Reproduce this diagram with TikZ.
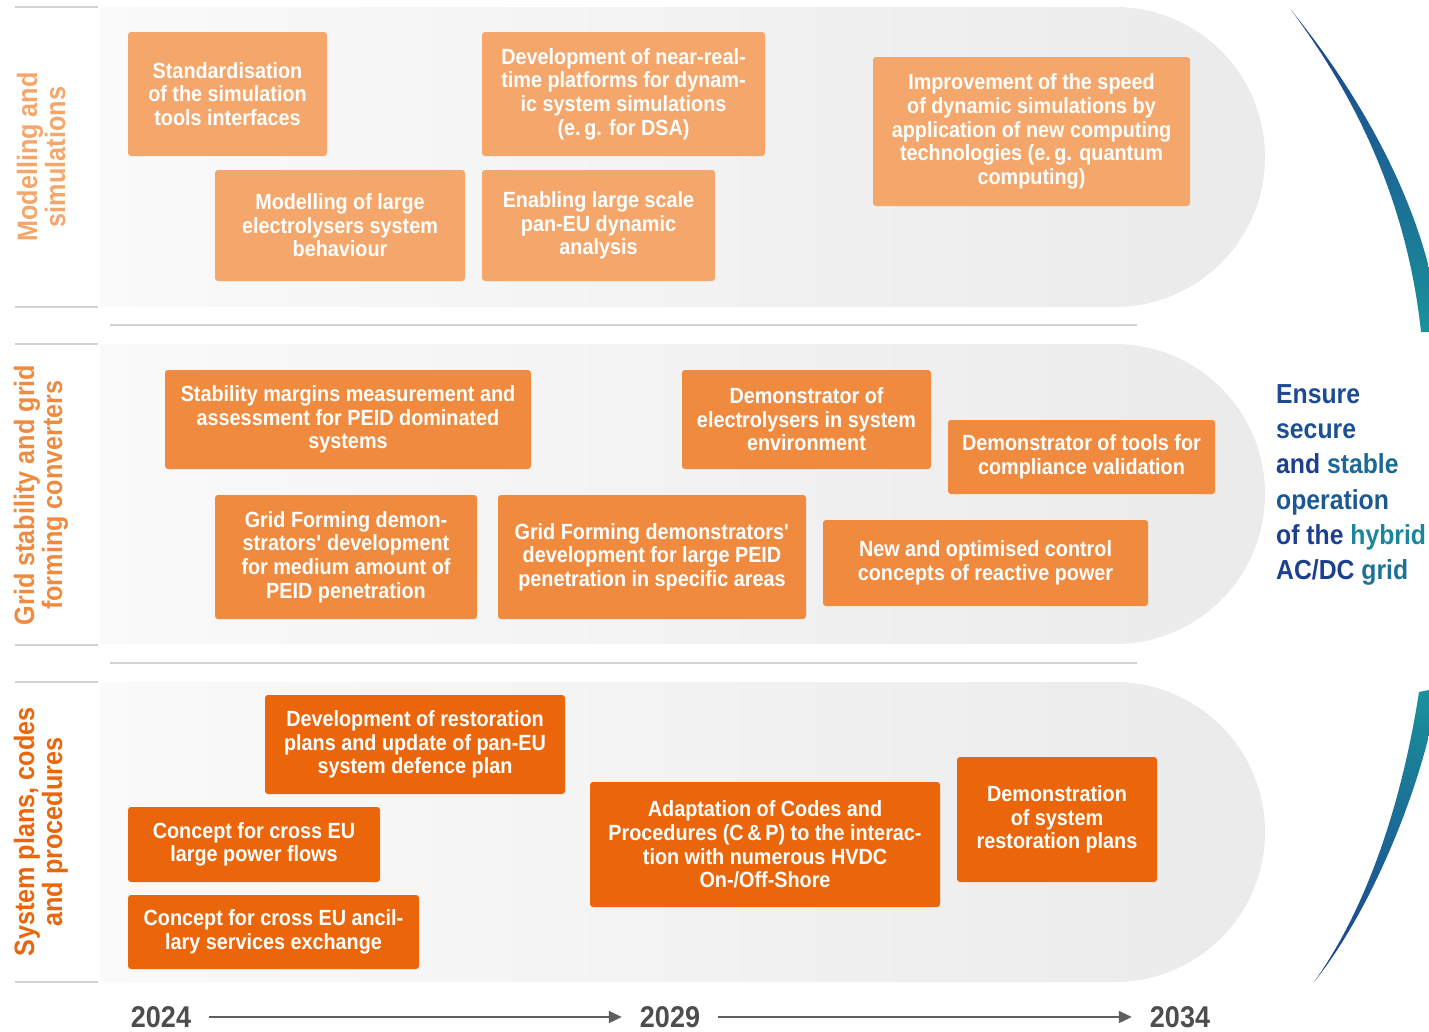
\documentclass[tikz,border=0pt]{standalone}
\usepackage{fontspec}
\setmainfont{Liberation Sans}[BoldFont={Liberation Sans Bold}, FakeStretch=0.9]
\usepackage{xcolor}
\usepackage{tikz}
\usetikzlibrary{arrows.meta, positioning}
\definecolor{simorange}{HTML}{F5A66B}
\definecolor{gridorange}{HTML}{F08A3F}
\definecolor{planorange}{HTML}{EB650A}
\definecolor{goalnavy}{HTML}{1D3F8F}
\definecolor{goalteal}{HTML}{1A929B}
\definecolor{yeargray}{HTML}{4D4D4D}
\newcommand{\taskfont}{\bfseries\fontsize{22}{23.6}\selectfont}
\newcommand{\lanefont}{\bfseries\fontsize{28}{28}\selectfont}
\tikzset{
  task/.style={rounded corners=3pt, align=center, text=white, font=\taskfont, inner sep=0pt},
  simtask/.style={task, fill=simorange},
  gridtask/.style={task, fill=gridorange},
  plantask/.style={task, fill=planorange},
  lane/.style={rotate=90, align=center, font=\lanefont, inner sep=0pt},
  year/.style={font=\bfseries\fontsize{30}{30}\selectfont, text=yeargray, inner sep=0pt},
  timearrow/.style={-{Triangle[length=13pt,width=12pt]}, line width=2.2pt, draw=yeargray!90, shorten <=18pt, shorten >=18pt},
  tick/.style={draw=gray!35, line width=2pt},
  goal/.style={align=left, font=\bfseries\fontsize{27.5}{35.2}\selectfont, inner sep=0pt, anchor=west}
}

\begin{document}
\begin{tikzpicture}[x=1pt, y=-1pt]
  \useasboundingbox (0,0) rectangle (1429,1031);
  % lanes
  \foreach \t in {7,344,682}{
    \shade[left color=gray!4, right color=gray!16]
      (100,\t) -- (1115,\t) arc[start angle=-90, end angle=90, radius=150] -- (100,\t+300) -- cycle;
  }
  \foreach \y in {7,307,344,645,682,982}
    \draw[tick] (15,\y) -- (98,\y);
  \draw[tick] (110,325) -- (1137,325);
  \draw[tick] (110,663) -- (1137,663);

  \node[lane, text=simorange] (lsim) at (41,157) {Modelling and\\simulations};
  \node[lane, text=gridorange] (lgrid) at (41,495) {Grid stability and grid\\forming converters};
  \node[lane, text=planorange] (lplan) at (41,832) {System plans, codes\\and procedures};

  % modelling and simulations
  \node[simtask, minimum width=199, minimum height=124] (standard) at (227.5,94) {Standardisation\\of the simulation\\tools interfaces};
  \node[simtask, minimum width=250, minimum height=111] (electro) at (340,225.5) {Modelling of large\\electrolysers system\\behaviour};
  \node[simtask, minimum width=283, minimum height=124] (realtime) at (623.5,94) {Development of near-real-\\time platforms for dynam-\\ic system simulations\\(e.\,g. for DSA)};
  \node[simtask, minimum width=233, minimum height=111] (paneu) at (598.5,225.5) {Enabling large scale\\pan-EU dynamic\\analysis};
  \node[simtask, minimum width=317, minimum height=149] (speed) at (1031.5,131.5) {Improvement of the speed\\of dynamic simulations by\\application of new computing\\technologies (e.\,g. quantum\\computing)};

  % grid stability
  \node[gridtask, minimum width=366, minimum height=99] (margins) at (348,419.5) {Stability margins measurement and\\assessment for PEID dominated\\systems};
  \node[gridtask, minimum width=262, minimum height=124] (gfmedium) at (346,557) {Grid Forming demon-\\strators\textquotesingle{} development\\for medium amount of\\PEID penetration};
  \node[gridtask, minimum width=308, minimum height=124] (gflarge) at (652,557) {Grid Forming demonstrators\textquotesingle\\development for large PEID\\penetration in specific areas};
  \node[gridtask, minimum width=249, minimum height=99] (elecdemo) at (806.5,419.5) {Demonstrator of\\electrolysers in system\\environment};
  \node[gridtask, minimum width=267, minimum height=74] (compliance) at (1081.5,457) {Demonstrator of tools for\\compliance validation};
  \node[gridtask, minimum width=325, minimum height=86] (reactive) at (985.5,563) {New and optimised control\\concepts of reactive power};

  % system plans
  \node[plantask, minimum width=300, minimum height=99] (restore) at (415,744.5) {Development of restoration\\plans and update of pan-EU\\system defence plan};
  \node[plantask, minimum width=252, minimum height=75] (flows) at (254,844.5) {Concept for cross EU\\large power flows};
  \node[plantask, minimum width=291, minimum height=74] (ancillary) at (273.5,932) {Concept for cross EU ancil-\\lary services exchange};
  \node[plantask, minimum width=350, minimum height=125] (codes) at (765,844.5) {Adaptation of Codes and\\Procedures (C\,\&\,P) to the interac-\\tion with numerous HVDC\\On-/Off-Shore};
  \node[plantask, minimum width=200, minimum height=125] (restdemo) at (1057,819.5) {Demonstration\\of system\\restoration plans};

  % timeline
  \node[year] (y2024) at (161,1017) {2024};
  \node[year] (y2029) at (670,1017) {2029};
  \node[year] (y2034) at (1180,1017) {2034};
  \draw[timearrow] (y2024) -- (y2029);
  \draw[timearrow] (y2029) -- (y2034);

  % goal
  \shade[top color=goalnavy, bottom color=goalteal]
    (1291,10) .. controls (1362,105) and (1408,210) .. (1421,332) -- (1429,332) -- (1429,268)
    .. controls (1408,185) and (1360,95) .. cycle;
  \shade[top color=goalteal, bottom color=goalnavy]
    (1429,690) -- (1419,692) .. controls (1400,815) and (1362,915) .. (1314,982)
    .. controls (1370,912) and (1412,805) .. (1429,735) -- cycle;
  \node[goal] (aim) at (1276,485) {\color{goalnavy!85!goalteal}Ensure\\
    \color{goalnavy!80!goalteal}secure\\
    \color{goalnavy}and \color{goalnavy!50!goalteal}stable\\
    \color{goalnavy!70!goalteal}operation\\
    \color{goalnavy}of the \color{goalteal!85!goalnavy}hybrid\\
    \color{goalnavy}AC/DC \color{goalnavy!40!goalteal}grid};
\end{tikzpicture}
\end{document}
